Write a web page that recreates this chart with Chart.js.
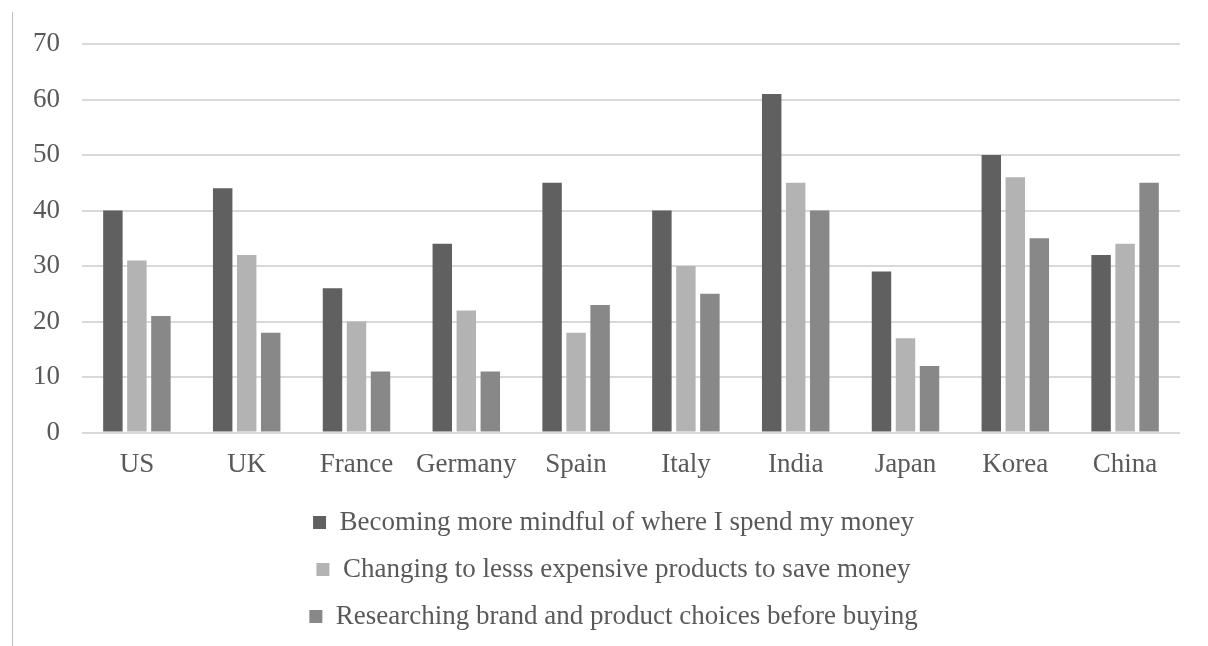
<!DOCTYPE html>
<html>
<head>
<meta charset="utf-8">
<script src="https://cdn.jsdelivr.net/npm/chart.js@4/dist/chart.umd.min.js"></script>
<style>
  html, body { margin: 0; padding: 0; background: #ffffff; }
  .frame {
    position: absolute;
    left: 12px;
    top: 12px;
    width: 1196px;
    height: 634px;
    border-left: 1px solid #bfbfbf;
  }
  .frame canvas { display: block; }
</style>
</head>
<body>
<div class="frame">
  <canvas id="spendChart" width="1195" height="634"></canvas>
</div>
<script>
// Survey: shopping behaviour changes by country (%)
const countries = ['US', 'UK', 'France', 'Germany', 'Spain', 'Italy', 'India', 'Japan', 'Korea', 'China'];
const seriesNames = [
    'Becoming more mindful of where I spend my money',
    'Changing to lesss expensive products to save money',
    'Researching brand and product choices before buying'
];
const mindful = [40, 44, 26, 34, 45, 40, 61, 29, 50, 32];
const cheaper = [31, 32, 20, 22, 18, 30, 45, 17, 46, 34];
const researching = [21, 18, 11, 11, 23, 25, 40, 12, 35, 45];
const yTicks = [0, 10, 20, 30, 40, 50, 60, 70];

const seriesColors = ['#606060', '#b3b3b3', '#888888'];
const textColor = '#595959';
const gridColor = '#d9d9d9';
const fontFamily = "'Liberation Serif', 'Times New Roman', serif";
const fontSize = 27;

Chart.defaults.font.family = fontFamily;
Chart.defaults.color = textColor;

// nudge the stacked legend rows a little to the right of the canvas centre
const legendOffset = {
    id: 'legendOffset',
    afterLayout(chart) {
        chart.legend.left += 17;
        chart.legend.right += 17;
    }
};

const ctx = document.getElementById('spendChart').getContext('2d');
const chart = new Chart(ctx, {
    type: 'bar',
    data: {
        labels: countries,
        datasets: [mindful, cheaper, researching].map((values, i) => ({
            label: seriesNames[i],
            data: values,
            backgroundColor: seriesColors[i],
            borderWidth: 0,
            categoryPercentage: 0.656,
            barPercentage: 0.81
        }))
    },
    options: {
        responsive: false,
        animation: false,
        layout: {
            padding: { top: 32, right: 28, bottom: 6, left: 0 }
        },
        plugins: {
            tooltip: { enabled: false },
            legend: {
                position: 'bottom',
                align: 'center',
                labels: {
                    boxWidth: 13,
                    boxHeight: 13,
                    padding: 20,
                    color: textColor,
                    font: { size: fontSize, family: fontFamily }
                }
            }
        },
        scales: {
            x: {
                afterFit(scale) {
                    scale.height -= 8;
                },
                grid: { display: false, drawTicks: false },
                border: { display: false },
                ticks: {
                    padding: 16,
                    maxRotation: 0,
                    color: textColor,
                    font: { size: fontSize, family: fontFamily }
                }
            },
            y: {
                min: 0,
                max: 70,
                afterBuildTicks(scale) {
                    scale.ticks = yTicks.map(v => ({ value: v }));
                },
                afterFit(scale) {
                    scale.width = 69;
                    scale.paddingTop = 16;
                    scale.paddingBottom = 16;
                },
                grid: {
                    color: gridColor,
                    lineWidth: 2,
                    drawTicks: false
                },
                border: { display: false },
                ticks: {
                    padding: 22,
                    color: textColor,
                    font: { size: fontSize, family: fontFamily }
                }
            }
        }
    },
    plugins: [legendOffset]
});
</script>
</body>
</html>
